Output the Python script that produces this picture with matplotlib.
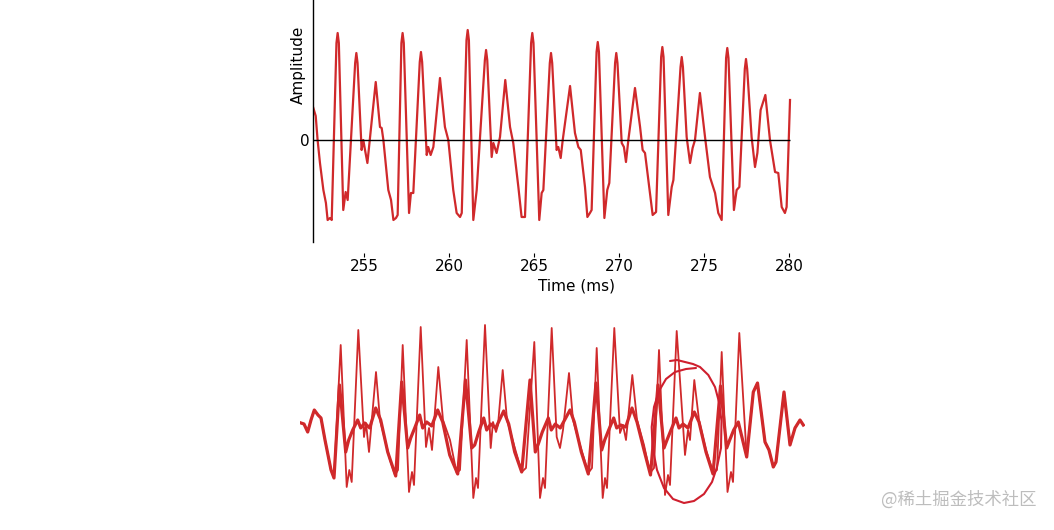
import matplotlib
matplotlib.use("Agg")
import matplotlib.pyplot as plt

plt.rcParams['font.family'] = ['DejaVu Sans', 'Noto Sans CJK SC']

# ---------------- top panel: waveform (time in ms, arbitrary amplitude) -------------
time_ms = [
    252.02, 252.16, 252.27, 252.41, 252.61, 252.76, 252.86, 253.00, 253.10, 253.38, 253.45, 253.52,
    253.78, 253.92, 254.04, 254.48, 254.55, 254.62, 254.86, 254.96, 255.06, 255.20, 255.69, 255.94,
    256.04, 256.14, 256.43, 256.59, 256.73, 256.88, 256.98, 257.20, 257.27, 257.34, 257.65, 257.76,
    257.90, 258.28, 258.35, 258.42, 258.69, 258.78, 258.92, 259.08, 259.47, 259.76, 259.96, 260.25,
    260.45, 260.65, 260.75, 261.03, 261.10, 261.17, 261.43, 261.63, 262.11, 262.18, 262.25, 262.51, 262.61, 262.80,
    263.00, 263.31, 263.59, 263.78, 264.08, 264.27, 264.47, 264.83, 264.90, 264.97, 265.31, 265.45,
    265.55, 265.93, 266.00, 266.07, 266.33, 266.43, 266.57, 266.69, 267.12, 267.41, 267.61, 267.75,
    268.00, 268.14, 268.29, 268.39, 268.68, 268.75, 268.82, 269.14, 269.31, 269.43, 269.77, 269.84, 269.91, 270.16,
    270.29, 270.41, 270.55, 270.94, 271.24, 271.39, 271.53, 271.78, 271.98, 272.18,
    272.48, 272.55, 272.62, 272.90, 273.10, 273.20, 273.62, 273.69, 273.76, 273.98, 274.18, 274.33, 274.47, 274.76,
    275.06, 275.35, 275.65, 275.84, 276.04, 276.30, 276.37, 276.44, 276.76, 276.92, 277.08, 277.40, 277.47, 277.54,
    277.80, 278.00, 278.14, 278.33, 278.61, 278.88, 279.18, 279.37, 279.57, 279.76, 279.86, 280.06]
amplitude = [
    0.32, 0.24, 0.00, -0.23, -0.50, -0.63, -0.80, -0.78, -0.80, 0.97, 1.07, 0.97,
    -0.70, -0.52, -0.60, 0.77, 0.87, 0.77, -0.10, 0.00, -0.10, -0.23, 0.58, 0.13,
    0.12, 0.00, -0.50, -0.60, -0.80, -0.78, -0.75, 0.97, 1.07, 0.97, -0.73, -0.53,
    -0.53, 0.78, 0.88, 0.78, -0.15, -0.07, -0.15, -0.07, 0.62, 0.13, 0.00, -0.50,
    -0.73, -0.77, -0.73, 1.00, 1.10, 1.00, -0.80, -0.50, 0.80, 0.90, 0.80, -0.17, -0.03, -0.13,
    0.03, 0.60, 0.13, -0.03, -0.47, -0.77, -0.77, 0.97, 1.07, 0.97, -0.80, -0.53,
    -0.50, 0.77, 0.87, 0.77, -0.10, -0.07, -0.18, 0.00, 0.54, 0.07, -0.07, -0.10,
    -0.47, -0.77, -0.73, -0.70, 0.88, 0.98, 0.88, -0.78, -0.50, -0.43, 0.77, 0.87, 0.77, -0.03,
    -0.07, -0.22, 0.00, 0.52, 0.13, -0.10, -0.13, -0.47, -0.75, -0.72,
    0.83, 0.93, 0.83, -0.75, -0.47, -0.40, 0.73, 0.83, 0.73, 0.03, -0.23, -0.08, 0.00, 0.47,
    0.03, -0.37, -0.53, -0.73, -0.80, 0.82, 0.92, 0.82, -0.70, -0.50, -0.47, 0.71, 0.81, 0.71,
    0.03, -0.27, -0.13, 0.30, 0.45, 0.00, -0.32, -0.33, -0.67, -0.73, -0.67, 0.40]
x_ticks = [255, 260, 265, 270, 275, 280]
y_ticks = [0]
x_label = 'Time (ms)'
y_label = 'Amplitude'

# ---------------- bottom panel: two overlaid waveforms (no axes) -------------------
thin_t = [
    0.05, 0.20, 0.385, 0.55, 0.715, 0.90, 1.05, 1.25, 1.40, 1.55, 1.70,
    2.035, 2.335, 2.465, 2.585, 2.915, 3.20, 3.30, 3.45, 3.80, 4.00, 4.25, 4.50, 4.75, 4.90,
    5.135, 5.45, 5.60, 5.70, 6.035, 6.30, 6.45, 6.60, 6.915, 7.15, 7.50, 7.835, 8.00,
    8.335, 8.665, 8.80, 8.90, 9.25, 9.535, 9.65, 9.80, 9.90, 10.135, 10.35, 10.70, 11.085, 11.30,
    11.715, 12.00, 12.15, 12.25, 12.585, 12.835, 13.00, 13.15, 13.45, 13.65, 14.00, 14.415, 14.60,
    14.835, 15.135, 15.25, 15.35, 15.715, 16.00, 16.15, 16.30, 16.615, 16.85, 17.20, 17.50, 17.70,
    17.95, 18.25, 18.40, 18.50, 18.835, 19.25, 19.40, 19.50, 19.715, 19.95, 20.30, 20.665, 20.85,
    21.085, 21.375, 21.55, 21.65, 21.965,
    22.335, 22.665, 22.875, 23.25, 23.45, 23.665, 23.80, 24.20, 24.50, 24.75, 25.00, 25.165]
thin_a = [
    0.02, 0.01, -0.07, 0.05, 0.15, 0.10, 0.07, -0.15, -0.30, -0.45, -0.53,
    0.80, -0.62, -0.45, -0.57, 0.95, -0.12, 0.02, -0.27, 0.53, 0.05, -0.15, -0.35, -0.50, -0.45,
    0.80, -0.67, -0.47, -0.60, 0.98, -0.22, -0.03, -0.25, 0.58, 0.05, -0.15, -0.48, -0.45,
    0.85, -0.73, -0.53, -0.63, 1.00, -0.23, 0.03, -0.07, 0.00, 0.55, 0.05, -0.20, -0.47, -0.43,
    0.83, -0.73, -0.53, -0.63, 0.97, -0.12, -0.23, -0.05, 0.52, 0.05, -0.20, -0.48, -0.43,
    0.77, -0.73, -0.53, -0.63, 0.97, -0.08, 0.00, -0.15, 0.50, 0.05, -0.20, -0.48, -0.43,
    0.75, -0.70, -0.50, -0.60, 0.94, -0.30, -0.05, -0.15, 0.45, 0.05, -0.25, -0.48, -0.45,
    0.73, -0.67, -0.47, -0.57, 0.92,
    -0.32, 0.33, 0.42, -0.17, -0.25, -0.42, -0.37, 0.33, -0.20, -0.03, 0.05, 0.00]

thick_t = [
    0.05, 0.20, 0.385, 0.55, 0.715, 0.90, 1.05, 1.25, 1.40, 1.55, 1.70,
    1.975, 2.285, 2.435, 2.635, 2.885, 3.035, 3.235, 3.485, 3.785, 4.035, 4.385, 4.785,
    5.085, 5.385, 5.535, 5.735, 5.985, 6.135, 6.335, 6.585, 6.885, 7.135, 7.485, 7.885,
    8.275, 8.585, 8.735, 8.935, 9.185, 9.335, 9.535, 9.785, 10.185, 10.435, 10.735, 11.085,
    11.50, 11.765, 11.915, 12.115, 12.415, 12.565, 12.765, 13.015, 13.50, 13.715, 14.065, 14.415,
    14.80, 15.085, 15.235, 15.435, 15.685, 15.835, 16.035, 16.285, 16.60, 16.85, 17.20, 17.525,
    17.90, 18.20, 18.35, 18.55, 18.80, 18.95, 19.15, 19.40, 19.715, 19.95, 20.30, 20.65,
    21.025, 21.335, 21.485, 21.685, 21.915,
    22.335, 22.665, 22.875, 23.25, 23.45, 23.665, 23.80, 24.20, 24.50, 24.75, 25.00, 25.165]
thick_a = [
    0.02, 0.01, -0.07, 0.05, 0.15, 0.10, 0.07, -0.15, -0.30, -0.45, -0.53,
    0.40, -0.27, -0.15, -0.05, 0.05, -0.03, 0.02, -0.03, 0.17, 0.05, -0.27, -0.51,
    0.43, -0.23, -0.13, -0.03, 0.10, -0.03, 0.03, -0.01, 0.15, 0.03, -0.30, -0.49,
    0.45, -0.23, -0.20, -0.07, 0.07, -0.05, 0.01, -0.03, 0.14, 0.01, -0.27, -0.47,
    0.45, -0.27, -0.19, -0.07, 0.07, -0.05, 0.01, -0.03, 0.15, 0.03, -0.27, -0.49,
    0.42, -0.25, -0.15, -0.05, 0.07, -0.03, 0.00, -0.02, 0.17, 0.03, -0.25, -0.50,
    0.40, -0.23, -0.15, -0.05, 0.07, -0.03, 0.01, -0.03, 0.13, 0.03, -0.27, -0.49,
    0.39, -0.23, -0.15, -0.05, 0.03,
    -0.32, 0.33, 0.42, -0.17, -0.25, -0.42, -0.37, 0.33, -0.20, -0.03, 0.05, 0.00]

# hand-drawn circle annotation (same units as the bottom waveforms)
circle_t = [18.50, 18.85, 19.25, 19.65, 20.00, 20.415, 20.75, 20.95, 21.075, 21.05,
            20.85, 20.60, 20.20, 19.70, 19.20, 18.65, 18.20, 17.85, 17.625, 17.585,
            17.70, 17.95, 18.30, 18.75, 19.30, 19.80]
circle_a = [0.64, 0.65, 0.63, 0.61, 0.58, 0.50, 0.38, 0.23, 0.04, -0.23,
            -0.42, -0.57, -0.69, -0.76, -0.78, -0.74, -0.63, -0.45, -0.22, -0.02,
            0.18, 0.34, 0.46, 0.53, 0.56, 0.57]

watermark = '@稀土掘金技术社区'

# ---------------- figure -------------------------------------------------------------
W, H = 1054, 530
fig = plt.figure(figsize=(W / 100, H / 100), dpi=100)

red = '#d0292b'

ax = fig.add_axes([313 / W, 1 - 242 / H, 526 / W, 242 / H])
ax.plot(time_ms, amplitude, color=red, lw=1.6, zorder=2, solid_joinstyle='round')
ax.hlines(0, time_ms[0], time_ms[-1], color='black', lw=1.0, zorder=3)
ax.set_xlim(252.0, 252.0 + 526 / 17.0)
ax.set_ylim(-1.02, 1.40)
ax.spines['top'].set_visible(False)
ax.spines['right'].set_visible(False)
ax.spines['bottom'].set_position(('outward', 11 * 0.72))
ax.spines['bottom'].set_visible(False)
ax.spines['left'].set_linewidth(1.0)
ax.set_xticks(x_ticks)
ax.set_xticklabels([str(v) for v in x_ticks])
ax.set_yticks(y_ticks)
ax.set_yticklabels([str(v) for v in y_ticks])
ax.tick_params(axis='x', direction='out', length=3, width=0.8, pad=1, labelsize=11)
ax.tick_params(axis='y', length=0, pad=2.5, labelsize=11)
ax.set_xlabel(x_label, fontsize=11, labelpad=3.5)
ax.set_ylabel(y_label, fontsize=11)
ax.yaxis.set_label_coords(-0.0133, 0.731)

ax2 = fig.add_axes([300 / W, 1 - 505 / H, 505 / W, 185 / H])
ax2.plot(thick_t, thick_a, color=red, lw=2.3, solid_joinstyle='round')
ax2.plot(thin_t, thin_a, color=red, lw=1.3, solid_joinstyle='round')
ax2.plot(circle_t, circle_a, color='#cf1f2e', lw=1.5, solid_capstyle='round')
ax2.set_xlim(0, 25.25)
ax2.set_ylim(-0.80, 1.05)
ax2.axis('off')

fig.text(1037 / W, 1 - 500 / H, watermark, ha='right', va='center', fontsize=12.5,
         color='#bdbdbd', family=['Noto Sans CJK SC', 'DejaVu Sans'])

fig.savefig('out.png', dpi=100)
